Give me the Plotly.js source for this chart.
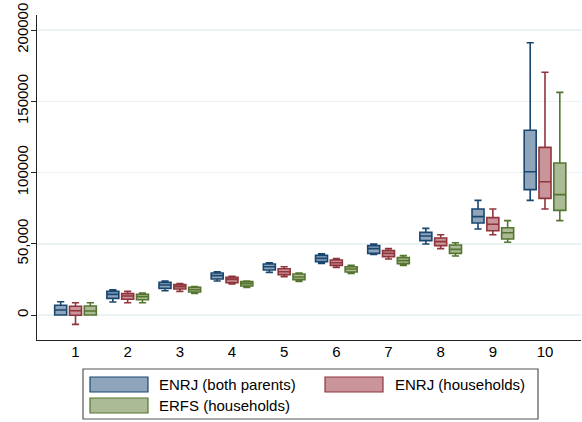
<!DOCTYPE html>
<html><head><meta charset="utf-8">
<script src="https://cdn.plot.ly/plotly-3.0.1.min.js"></script>
<style>html,body{margin:0;padding:0;background:#fff}#chart{width:582px;height:422px}</style>
</head><body><div id="chart"></div>
<script>
const deciles = [1,2,3,4,5,6,7,8,9,10];
const seriesNames = ["ENRJ (both parents)", "ENRJ (households)", "ERFS (households)"];

const blueQ1  = [0, 11700, 18700, 25260, 31580, 37430, 43270, 52160, 64560, 87950];
const blueMed = [3500, 14500, 21050, 27600, 33900, 39770, 46550, 55440, 69000, 100560];
const blueQ3  = [6800, 16600, 22900, 29470, 35800, 41870, 48650, 58000, 74390, 129600];
const blueLo  = [0, 9100, 17050, 23860, 29940, 36250, 42570, 49820, 60350, 80470];
const blueHi  = [9330, 17750, 23860, 30400, 36700, 43000, 49800, 60800, 80470, 191100];

const redQ1  = [-200, 11000, 18250, 22700, 28300, 34850, 40940, 48660, 59160, 81870];
const redMed = [3000, 13300, 19900, 25030, 30400, 36700, 43270, 51460, 63650, 93550];
const redQ3  = [6100, 15000, 21300, 26430, 32500, 38600, 45150, 54040, 68300, 117660];
const redLo  = [-6550, 8600, 16600, 21750, 26900, 33450, 39300, 46550, 56350, 74390];
const redHi  = [8630, 16600, 22000, 27140, 33900, 39530, 46550, 56360, 74390, 170300];

const greenQ1  = [0, 10750, 16140, 20350, 24800, 30170, 36020, 43270, 53330, 73450];
const greenMed = [2800, 12850, 17770, 22000, 26670, 32280, 38130, 46080, 57750, 84440];
const greenQ3  = [6300, 14500, 19400, 23400, 28770, 33900, 40230, 49120, 61260, 106670];
const greenLo  = [0, 8600, 15200, 19400, 23630, 29240, 34850, 41400, 51000, 66200];
const greenHi  = [8630, 15400, 19900, 23860, 29470, 34850, 41640, 50740, 66200, 156250];

const yTickVals = [0, 50000, 100000, 150000, 200000];
const yTickText = ["0", "50,000", "100000", "150000", "200000"];

const lineColors = ["#1a476f", "#90353b", "#55752f"];
const fillColors = ["#8ea5bc", "#c9959a", "#abbb96"];

const stats = [
  [blueQ1, blueMed, blueQ3, blueLo, blueHi],
  [redQ1, redMed, redQ3, redLo, redHi],
  [greenQ1, greenMed, greenQ3, greenLo, greenHi]
];

const traces = stats.map((s, i) => ({
  type: "box",
  name: seriesNames[i],
  x: deciles,
  q1: s[0], median: s[1], q3: s[2], lowerfence: s[3], upperfence: s[4],
  line: {color: lineColors[i], width: 1.6},
  fillcolor: fillColors[i],
  whiskerwidth: 0.6,
  boxpoints: false,
  hoverinfo: "skip",
  showlegend: false
}));

// pixel -> paper helpers for the legend
const L = 37, R = 581, T = 15, B = 340;
const px = v => (v - L) / (R - L);
const py = v => (B - v) / (B - T);

const shapes = [
  {type: "rect", xref: "paper", yref: "paper", x0: px(83), x1: px(538), y0: py(369), y1: py(419),
   line: {color: "#555", width: 1.2}, fillcolor: "rgba(0,0,0,0)"}
];
const annotations = [];
const legendPos = [[90, 377, 157], [325, 377, 393], [90, 398, 157]];
legendPos.forEach((p, i) => {
  shapes.push({type: "rect", xref: "paper", yref: "paper",
    x0: px(p[0]), x1: px(p[0] + 58), y0: py(p[1]), y1: py(p[1] + 15),
    line: {color: lineColors[i], width: 1.2}, fillcolor: fillColors[i]});
  annotations.push({xref: "paper", yref: "paper", x: px(p[2]), y: py(p[1] + 7.5),
    xanchor: "left", yanchor: "middle", showarrow: false, text: seriesNames[i],
    font: {family: "Liberation Sans, Arial, sans-serif", size: 15, color: "#000"}});
});

const layout = {
  width: 582, height: 422,
  margin: {l: L, r: 582 - R, t: T, b: 422 - B, pad: 0},
  paper_bgcolor: "#fff", plot_bgcolor: "#fff",
  font: {family: "Liberation Sans, Arial, sans-serif", size: 15, color: "#000"},
  boxmode: "group", boxgap: 0.148, boxgroupgap: 0.19,
  showlegend: false,
  xaxis: {
    range: [0.262, 10.69], tickvals: deciles, ticktext: deciles.map(String),
    showgrid: false, zeroline: false, showline: true, linecolor: "#222", linewidth: 1.2,
    ticks: "", ticklabelstandoff: -2, fixedrange: true
  },
  yaxis: {
    range: [-17544, 210526], tickvals: yTickVals, ticktext: yTickText, tickangle: -90,
    showgrid: true, gridcolor: "#eaf2f3", gridwidth: 1.5, zeroline: false,
    showline: true, linecolor: "#222", linewidth: 1.2,
    ticks: "outside", ticklen: 5, tickcolor: "#222", ticklabelstandoff: -3, fixedrange: true
  },
  shapes: shapes,
  annotations: annotations
};

Plotly.newPlot("chart", traces, layout, {displayModeBar: false, staticPlot: true});
</script></body></html>
